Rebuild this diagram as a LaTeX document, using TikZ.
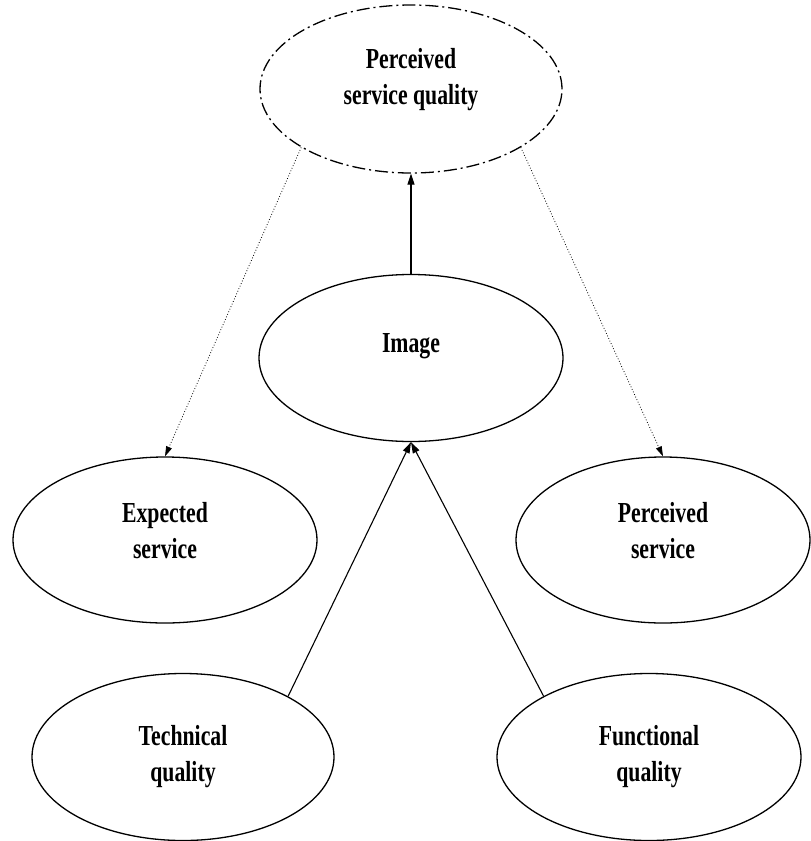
\documentclass[tikz,border=0pt]{standalone}
\usepackage{fontspec}
\setmainfont{Liberation Serif}[FakeStretch=0.75]
\usepackage{tikz}
\usetikzlibrary{shapes.geometric,arrows.meta}

\begin{document}
\begin{tikzpicture}[
  x=1pt, y=-1pt,
  oval/.style={ellipse, draw, line width=1.3pt, inner sep=0pt, align=center,
    text depth=20pt, font=\bfseries\fontsize{29}{36}\selectfont},
  dashoval/.style={oval, dash pattern=on 13pt off 4pt on 2pt off 4pt},
  arr/.style={-{Triangle[length=11pt,width=7pt]}, line width=1.1pt},
  dotarr/.style={-{Triangle[length=10pt,width=6pt]}, line width=0.8pt, dotted}
]
\useasboundingbox (0,0) rectangle (811,841);
\node[dashoval, text depth=26pt, minimum width=302pt, minimum height=168pt] (psq) at (411,89) {Perceived\\service quality};
\node[oval, text depth=30pt, minimum width=304pt, minimum height=167pt] (img) at (411,358) {Image};
\node[oval, minimum width=304pt, minimum height=166pt] (exp) at (165,540) {Expected\\service};
\node[oval, minimum width=294pt, minimum height=166pt] (perc) at (663,540) {Perceived\\service};
\node[oval, text depth=8pt, minimum width=302pt, minimum height=167pt] (tech) at (183,757) {Technical\\quality};
\node[oval, text depth=8pt, minimum width=304pt, minimum height=167pt] (func) at (649,757) {Functional\\quality};

\draw[arr] (img.north) -- (psq.south);
\draw[dotarr] (psq.208) -- (exp.north);
\draw[dotarr] (psq.332) -- (perc.north);
\draw[arr] (tech.30) -- (img.south);
\draw[arr] (func.150) -- (img.south);
\end{tikzpicture}
\end{document}
